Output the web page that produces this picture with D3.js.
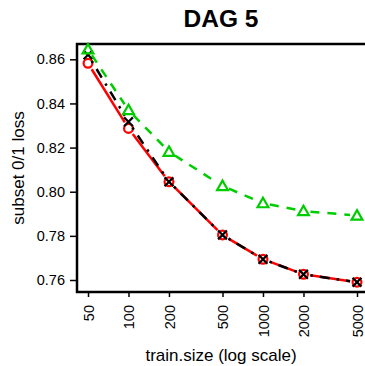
<!DOCTYPE html>
<html>
<head>
<meta charset="utf-8">
<script src="https://cdn.jsdelivr.net/npm/d3@7"></script>
<style>
  body { margin: 0; background: #fff; }
  text { font-family: "Liberation Sans", Arial, sans-serif; }
</style>
</head>
<body>
<div id="chart"></div>
<script>
// data
var trainSizes = [50, 100, 200, 500, 1000, 2000, 5000];
var lossBlack = [0.862, 0.8317, 0.8045, 0.7804, 0.7694, 0.7626, 0.759];
var lossRed   = [0.8582, 0.8287, 0.8045, 0.7804, 0.7694, 0.7626, 0.759];
var lossGreen = [0.8645, 0.837, 0.8181, 0.8026, 0.7948, 0.7912, 0.7892];
var yTicks = [0.76, 0.78, 0.80, 0.82, 0.84, 0.86];

function init(){
    var w = 365, h = 366;
    var left = 77, top = 44, bottom = 292, right = 368;

    var svg = d3.select("#chart").append("svg")
                .attr("width", w).attr("height", h);

    var x = d3.scaleLog().domain([50, 5000]).range([88, 357]);
    var y = d3.scaleLinear().domain([0.76, 0.86]).range([280, 59.3]);

    // box
    svg.append("rect")
        .attr("x", left).attr("y", top)
        .attr("width", right - left).attr("height", bottom - top)
        .attr("fill", "none").attr("stroke", "#000").attr("stroke-width", 2.5);

    // y axis
    var yAxis = d3.axisLeft(y).tickValues(yTicks)
                  .tickFormat(d3.format(".2f")).tickSize(7).tickPadding(5);
    var gy = svg.append("g").attr("transform", "translate(" + left + ",0)").call(yAxis);
    gy.select(".domain").remove();
    gy.selectAll("line").attr("stroke-width", 1.5);
    gy.selectAll("text").attr("font-size", 14.5).attr("fill", "#000")
      .style("font-family", "Liberation Sans, Arial, sans-serif");

    // x axis
    var xAxis = d3.axisBottom(x).tickValues(trainSizes)
                  .tickFormat(d3.format("d")).tickSize(5);
    var gx = svg.append("g").attr("transform", "translate(0," + bottom + ")").call(xAxis);
    gx.select(".domain").remove();
    gx.selectAll("line").attr("stroke-width", 1.5);
    gx.selectAll("text")
      .attr("font-size", 14.5).attr("fill", "#000")
      .style("font-family", "Liberation Sans, Arial, sans-serif")
      .attr("text-anchor", "end")
      .attr("transform", "rotate(-90)")
      .attr("x", -13).attr("y", 0).attr("dy", "0.35em");

    // labels
    svg.append("text").attr("x", 221).attr("y", 27)
        .attr("text-anchor", "middle").attr("font-size", 24.5)
        .attr("font-weight", "bold").text("DAG 5");
    svg.append("text").attr("x", 221).attr("y", 361)
        .attr("text-anchor", "middle").attr("font-size", 17)
        .text("train.size (log scale)");
    svg.append("text")
        .attr("transform", "translate(24,168) rotate(-90)")
        .attr("text-anchor", "middle").attr("font-size", 17)
        .text("subset 0/1 loss");

    var series = [
        {vals: lossRed, color: "#ff0000", dash: null, mark: "circle"},
        {vals: lossBlack, color: "#000000", dash: "2.5,7,10,7", mark: "x"},
        {vals: lossGreen, color: "#00cd00", dash: "9,8", mark: "tri"}
    ];

    var gap = 7;
    series.forEach(function(s){
        var pts = trainSizes.map(function(t, i){ return [x(t), y(s.vals[i])]; });
        var segs = [];
        for (var i = 0; i < pts.length - 1; i++){
            var p = pts[i], q = pts[i+1];
            var dx = q[0] - p[0], dy = q[1] - p[1];
            var len = Math.sqrt(dx*dx + dy*dy);
            if (len <= 2*gap) continue;
            var ux = dx/len, uy = dy/len;
            segs.push([[p[0] + ux*gap, p[1] + uy*gap], [q[0] - ux*gap, q[1] - uy*gap]]);
        }
        svg.append("g").selectAll("path").data(segs).enter().append("path")
            .attr("d", d3.line())
            .attr("fill", "none")
            .attr("stroke", s.color)
            .attr("stroke-width", 2.5)
            .attr("stroke-dasharray", s.dash);

        var mg = svg.append("g");
        pts.forEach(function(p){
            if (s.mark == "circle"){
                mg.append("circle").attr("cx", p[0]).attr("cy", p[1]).attr("r", 4.4)
                  .attr("fill", "none").attr("stroke", s.color).attr("stroke-width", 2.2);
            } else if (s.mark == "x"){
                var r = 4.4;
                mg.append("path")
                  .attr("d", "M" + (p[0]-r) + "," + (p[1]-r) + "L" + (p[0]+r) + "," + (p[1]+r) +
                             "M" + (p[0]-r) + "," + (p[1]+r) + "L" + (p[0]+r) + "," + (p[1]-r))
                  .attr("stroke", s.color).attr("stroke-width", 2.2);
            } else {
                var a = 5.4;
                mg.append("path")
                  .attr("d", "M" + p[0] + "," + (p[1]-a) + "L" + (p[0]+a) + "," + (p[1]+a*0.75) +
                             "L" + (p[0]-a) + "," + (p[1]+a*0.75) + "Z")
                  .attr("fill", "none").attr("stroke", s.color).attr("stroke-width", 2.2);
            }
        });
    });
}
window.onload = init;
</script>
</body>
</html>
